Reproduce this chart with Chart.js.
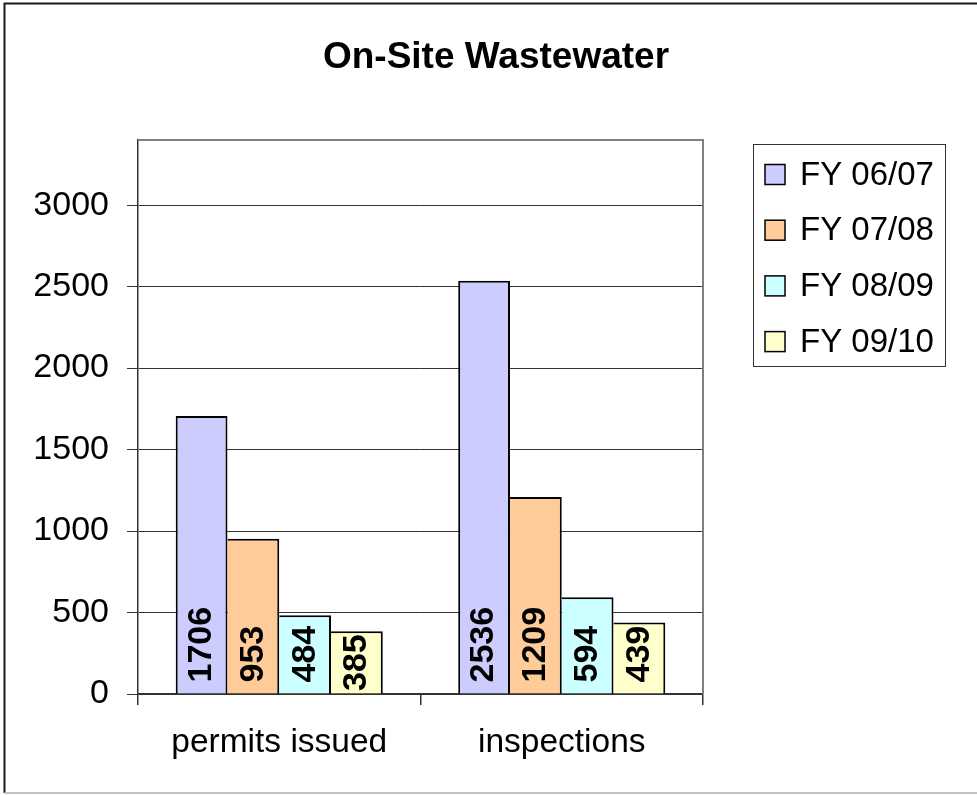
<!DOCTYPE html>
<html>
<head>
<meta charset="utf-8">
<script src="https://cdn.jsdelivr.net/npm/chart.js@4.4.1/dist/chart.umd.min.js"></script>
<style>
  html, body { margin: 0; padding: 0; background: #fff; }
  #wrap { width: 977px; height: 795px; }
</style>
</head>
<body>
<div id="wrap"><canvas id="chart" width="977" height="795"></canvas></div>
<script>
// values
const chartTitle = "On-Site Wastewater";
const categories = ["permits issued", "inspections"];
const seriesNames = ["FY 06/07", "FY 07/08", "FY 08/09", "FY 09/10"];
const fy0607 = [1706, 2536];
const fy0708 = [953, 1209];
const fy0809 = [484, 594];
const fy0910 = [385, 439];
const yTicks = [0, 500, 1000, 1500, 2000, 2500, 3000];

const FONT = '"Liberation Sans", Arial, sans-serif';
const fills = ["#CCCCFF", "#FFCC99", "#CCFFFF", "#FFFFCC"];

// white page, cropped outer frame, title, plot box
const frame = {
  id: 'frame',
  beforeDraw(chart) {
    const ctx = chart.ctx, W = chart.width;
    ctx.save();
    ctx.fillStyle = '#fff';
    ctx.fillRect(0, 0, W, chart.height);
    ctx.lineWidth = 2;
    ctx.strokeStyle = '#1a1a1a';
    ctx.beginPath();
    ctx.moveTo(W, 3.5);
    ctx.lineTo(4.5, 3.5);
    ctx.lineTo(4.5, 793);
    ctx.stroke();
    ctx.strokeStyle = '#c0c0c0';
    ctx.beginPath();
    ctx.moveTo(4.5, 793);
    ctx.lineTo(W, 793);
    ctx.stroke();
    // chart title
    ctx.fillStyle = '#000';
    ctx.font = 'bold 37px ' + FONT;
    ctx.textAlign = 'center';
    ctx.textBaseline = 'alphabetic';
    ctx.fillText(chartTitle, 496, 68);
    ctx.restore();
  },
  beforeDatasetsDraw(chart) {
    const a = chart.chartArea, ctx = chart.ctx;
    ctx.save();
    ctx.strokeStyle = '#808080';
    ctx.lineWidth = 2;
    ctx.beginPath();
    ctx.moveTo(a.left, a.top);
    ctx.lineTo(a.right, a.top);
    ctx.lineTo(a.right, a.bottom);
    ctx.stroke();
    ctx.restore();
  }
};

// values written up the bars, from the base
const barLabels = {
  id: 'barLabels',
  afterDatasetsDraw(chart) {
    const ctx = chart.ctx;
    ctx.save();
    ctx.font = 'bold 34px ' + FONT;
    ctx.fillStyle = '#000';
    ctx.textAlign = 'left';
    ctx.textBaseline = 'middle';
    chart.data.datasets.forEach((ds, i) => {
      chart.getDatasetMeta(i).data.forEach((bar, j) => {
        const txt = String(ds.data[j]);
        const w = ctx.measureText(txt).width;
        let start = bar.base - 11;
        if (start - w < bar.y + 3) start = bar.y + 3 + w;
        ctx.save();
        ctx.translate(bar.x, start);
        ctx.rotate(-Math.PI / 2);
        ctx.fillText(txt, 0, 0);
        ctx.restore();
      });
    });
    ctx.restore();
  }
};

// boxed legend to the right of the plot
const boxLegend = {
  id: 'boxLegend',
  afterDraw(chart) {
    const a = chart.chartArea, ctx = chart.ctx;
    const left = a.right + 50, top = a.top + 4, w = 192, h = 222;
    ctx.save();
    ctx.strokeStyle = '#333';
    ctx.lineWidth = 1;
    ctx.strokeRect(left + 0.5, top + 0.5, w, h);
    ctx.font = '33px ' + FONT;
    ctx.textBaseline = 'middle';
    chart.data.datasets.forEach((ds, i) => {
      const cy = top + 30.5 + i * 55.7;
      ctx.fillStyle = ds.backgroundColor;
      ctx.fillRect(left + 12, cy - 10, 20, 20);
      ctx.strokeStyle = '#000';
      ctx.lineWidth = 1.5;
      ctx.strokeRect(left + 12, cy - 10, 20, 20);
      ctx.fillStyle = '#000';
      ctx.fillText(ds.label, left + 47, cy + 1);
    });
    ctx.restore();
  }
};

const seriesData = [fy0607, fy0708, fy0809, fy0910];

new Chart(document.getElementById('chart'), {
  type: 'bar',
  data: {
    labels: categories,
    datasets: seriesNames.map((name, i) => ({
      label: name,
      data: seriesData[i],
      backgroundColor: fills[i],
      borderColor: '#000',
      borderWidth: i === 0 ? { left: 2, top: 2, right: 2, bottom: 0 } : { left: 0, top: 2, right: 2, bottom: 0 },
      borderSkipped: false,
      categoryPercentage: 0.733,
      barPercentage: 1
    }))
  },
  options: {
    responsive: false,
    animation: false,
    devicePixelRatio: 1,
    layout: { padding: { left: 35, right: 274, top: 140, bottom: 0 } },
    plugins: {
      legend: { display: false },
      tooltip: { enabled: false },
      title: { display: false }
    },
    scales: {
      x: {
        grid: { offset: true, drawOnChartArea: false, tickLength: 11, color: '#333', lineWidth: 1.5 },
        border: { color: '#333', width: 1.5 },
        ticks: { color: '#000', font: { family: FONT, size: 33.5 }, padding: 18 },
        afterFit(scale) { scale.height = 101; }
      },
      y: {
        min: 0,
        max: 3400,
        afterBuildTicks(scale) { scale.ticks = yTicks.map(v => ({ value: v })); },
        grid: { color: '#333', lineWidth: 1, tickLength: 11 },
        border: { color: '#333', width: 1.5 },
        ticks: { color: '#000', font: { family: FONT, size: 34 }, padding: 18, callback: v => String(v) },
        afterFit(scale) { scale.width = 103; }
      }
    }
  },
  plugins: [frame, barLabels, boxLegend]
});
</script>
</body>
</html>
